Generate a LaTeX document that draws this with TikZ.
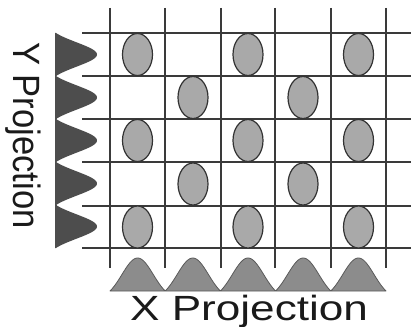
\documentclass[tikz,border=0pt]{standalone}
\usepackage{fontspec}
\setmainfont{Liberation Sans}
\usetikzlibrary{shapes.geometric}
\definecolor{gridc}{HTML}{3A3A3A}
\definecolor{blobfill}{HTML}{A9A9A9}
\definecolor{blobline}{HTML}{333333}
\definecolor{yproj}{HTML}{4D4D4D}
\definecolor{xproj}{HTML}{8C8C8C}
\definecolor{xprojline}{HTML}{5A5A5A}
\definecolor{txt}{HTML}{1A1A1A}
\tikzset{
  gridline/.style={draw=gridc, line width=1.4pt},
  blob/.style={ellipse, draw=blobline, fill=blobfill, line width=1.2pt,
    minimum width=30pt, minimum height=42pt, inner sep=0pt},
  label text/.style={inner sep=0pt, text=txt},
  declare function={hump(\t)=(exp(-((\t-floor(\t)-0.5)/0.4)^2)-0.2096)/0.7904;}
}
\begin{document}
\begin{tikzpicture}[x=1pt, y=-1pt]
\useasboundingbox (0,0) rectangle (411,326);
\fill[white] (0,0) rectangle (411,326);
% grid
\foreach \gx in {110,165,221,275,331,386}
  \draw[gridline] (\gx,8) -- (\gx,268);
\foreach \gy in {33,76,119,162,206,248}
  \draw[gridline] (82,\gy) -- (411,\gy);
% ellipses
\foreach \r/\cy in {1/54.5,3/140.5,5/227}{
  \foreach \c/\cx in {1/137.5,3/248,5/358.5}
    \node[blob] (e\r\c) at (\cx,\cy) {};
}
\foreach \r/\cy in {2/97.5,4/184}{
  \foreach \c/\cx in {2/193,4/303}
    \node[blob] (e\r\c) at (\cx,\cy) {};
}
% Y projection
\fill[yproj] (55,33) -- plot[domain=0:4.999, samples=250]
  ({56+41*hump(\x)}, {33+43*\x}) -- (56,248) -- (55,248) -- cycle;
% X projection
\filldraw[fill=xproj, draw=xprojline, line width=0.8pt, line join=round] (110,291) -- plot[domain=0:4.999, samples=250]
  ({110+55.2*\x}, {291-33*hump(\x)}) -- (386,291) -- cycle;
% labels
\node[label text, anchor=base west] (xl) at (130,320)
  {\fontsize{35}{40}\selectfont\scalebox{1.26}[1]{X Projection}};
\node[label text, anchor=base west, rotate=-90] (yl) at (13,42)
  {\fontsize{38}{44}\selectfont\scalebox{0.91}[1]{Y Projection}};
\end{tikzpicture}
\end{document}
